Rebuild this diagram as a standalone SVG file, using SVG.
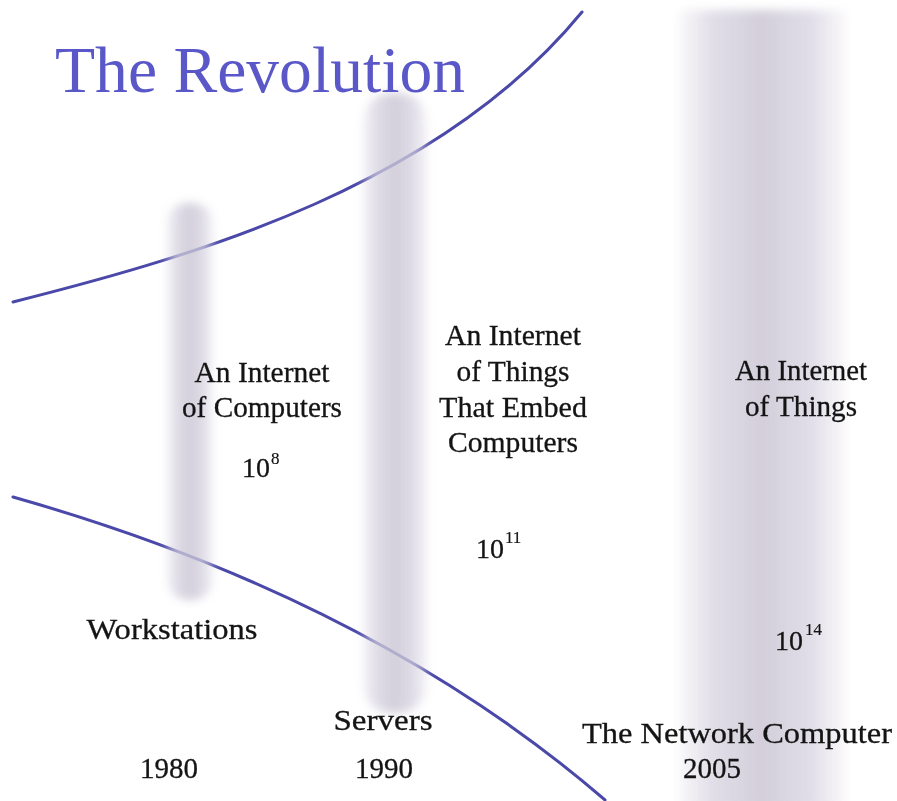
<svg xmlns="http://www.w3.org/2000/svg" width="897" height="801" viewBox="0 0 897 801">
  <style>
    .lbl { font-family: "Liberation Serif", "Times New Roman", serif; fill: #141414; stroke: #141414; stroke-width: 0.3; text-anchor: middle; }
    .sup { font-family: "Liberation Serif", "Times New Roman", serif; fill: #141414; stroke: #141414; stroke-width: 0.2; }
    .curve { fill: none; stroke: #4a48a8; stroke-width: 3; stroke-linecap: round; }
  </style>
  <defs>
    <linearGradient id="barGrad" x1="0" y1="0" x2="1" y2="0">
      <stop offset="0" stop-color="#e2dee6" stop-opacity="0.3"/>
      <stop offset="0.2" stop-color="#d6d2e0" stop-opacity="0.9"/>
      <stop offset="0.5" stop-color="#c8c4d2" stop-opacity="1"/>
      <stop offset="0.8" stop-color="#d6d2e0" stop-opacity="0.9"/>
      <stop offset="1" stop-color="#e2dee6" stop-opacity="0.3"/>
    </linearGradient>
    <filter id="soft" x="-50%" y="-10%" width="200%" height="120%">
      <feGaussianBlur stdDeviation="5"/>
    </filter>
  </defs>
  <rect width="897" height="801" fill="#ffffff"/>

  <g id="connectors">
    <path class="curve" d="M13,302 C200,255 440,185 582,12"/>
    <path class="curve" d="M13,497 C200,550 420,640 605,800"/>
  </g>

  <g id="bars" opacity="0.82">
    <rect id="bar-1980" x="166" y="203" width="48" height="397" rx="22" fill="url(#barGrad)" filter="url(#soft)"/>
    <rect id="bar-1990" x="362" y="93" width="66" height="620" rx="30" fill="url(#barGrad)" filter="url(#soft)"/>
    <rect id="bar-2005" x="679" y="10" width="166" height="800" rx="4" fill="url(#barGrad)" filter="url(#soft)"/>
  </g>

  <g id="title">
    <text x="55" y="92" font-family="'Liberation Serif', 'Times New Roman', serif" font-size="66" fill="#5a58c8" textLength="410" lengthAdjust="spacingAndGlyphs">The Revolution</text>
  </g>

  <g id="node-computers">
    <text class="lbl" x="262" y="382" font-size="29" textLength="135" lengthAdjust="spacingAndGlyphs">An Internet</text>
    <text class="lbl" x="262" y="417" font-size="29" textLength="160" lengthAdjust="spacingAndGlyphs">of Computers</text>
    <text class="lbl" x="256" y="477" font-size="28">10</text>
    <text class="sup" x="271" y="464" font-size="17">8</text>
  </g>

  <g id="node-embed">
    <text class="lbl" x="513" y="345" font-size="29" textLength="136" lengthAdjust="spacingAndGlyphs">An Internet</text>
    <text class="lbl" x="513" y="381" font-size="29" textLength="113" lengthAdjust="spacingAndGlyphs">of Things</text>
    <text class="lbl" x="513" y="417" font-size="29" textLength="148" lengthAdjust="spacingAndGlyphs">That Embed</text>
    <text class="lbl" x="513" y="452" font-size="29" textLength="130" lengthAdjust="spacingAndGlyphs">Computers</text>
    <text class="lbl" x="490" y="558" font-size="28">10</text>
    <text class="sup" x="505" y="543" font-size="17">11</text>
  </g>

  <g id="node-things">
    <text class="lbl" x="801" y="380" font-size="29" textLength="132" lengthAdjust="spacingAndGlyphs">An Internet</text>
    <text class="lbl" x="801" y="416" font-size="29" textLength="112" lengthAdjust="spacingAndGlyphs">of Things</text>
    <text class="lbl" x="789" y="650" font-size="28">10</text>
    <text class="sup" x="805" y="635" font-size="17">14</text>
  </g>

  <g id="node-workstations">
    <text class="lbl" x="172" y="639" font-size="30" textLength="171" lengthAdjust="spacingAndGlyphs">Workstations</text>
    <text class="lbl" x="169" y="778" font-size="29">1980</text>
  </g>

  <g id="node-servers">
    <text class="lbl" x="383" y="730" font-size="30" textLength="99" lengthAdjust="spacingAndGlyphs">Servers</text>
    <text class="lbl" x="384" y="778" font-size="29">1990</text>
  </g>

  <g id="node-network-computer">
    <text class="lbl" x="737" y="743" font-size="30" textLength="310" lengthAdjust="spacingAndGlyphs">The Network Computer</text>
    <text class="lbl" x="712" y="778" font-size="29">2005</text>
  </g>
</svg>
